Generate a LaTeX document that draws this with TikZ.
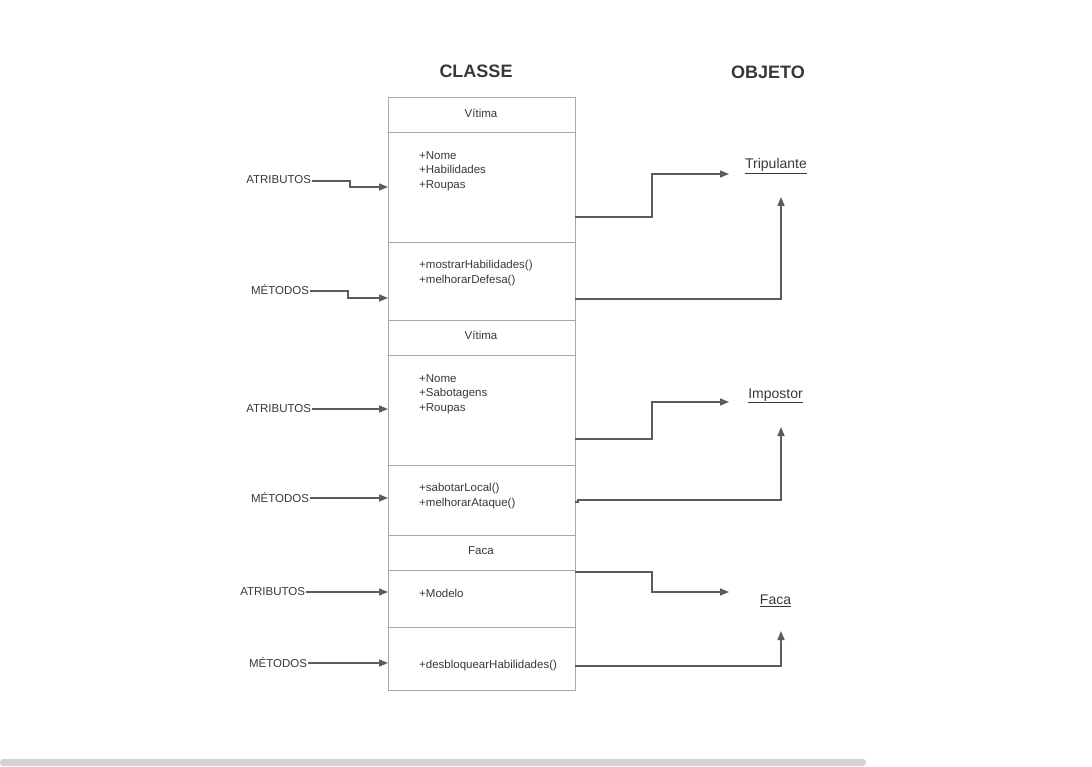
\documentclass[tikz,border=0pt]{standalone}
\usepackage{fontspec}
\setmainfont{Liberation Sans}
\usetikzlibrary{arrows.meta}
\definecolor{ln}{HTML}{5C5C5C}
\definecolor{bx}{HTML}{A8A8A8}
\definecolor{tx}{HTML}{383838}
\definecolor{bar}{HTML}{D2D2D7}
\begin{document}
\begin{tikzpicture}[x=1pt,y=-1pt,
  sec/.style={draw=bx, line width=0.9pt, minimum width=187pt, inner sep=0pt, outer sep=0pt, anchor=north west},
  txt/.style={font=\fontsize{11.5}{14}\selectfont, text=tx, inner sep=0pt, anchor=base west},
  hdr/.style={font=\fontsize{11.5}{14}\selectfont, text=tx, inner sep=0pt},
  side/.style={font=\fontsize{11.5}{14}\selectfont, text=tx, inner sep=0pt, outer sep=1pt, anchor=base east},
  ttl/.style={font=\fontsize{18}{20}\selectfont\bfseries, text=tx, inner sep=0pt},
  obj/.style={font=\fontsize{14}{16}\selectfont, text=tx, inner sep=0pt},
  conn/.style={draw=ln, line width=1.5pt, -{Triangle[length=9pt,width=7pt]}}]
\useasboundingbox (0,0) rectangle (1092,767);
\fill[bar, rounded corners=3pt] (0,759) rectangle (866,766);

% titles
\node[ttl] (classe) at (476,71) {CLASSE};
\node[ttl] (objeto) at (768,72) {OBJETO};

% class 1
\node[sec, minimum height=35pt] (h1) at (388,97) {};
\node[sec, minimum height=110pt] (a1) at (388,132) {};
\node[sec, minimum height=78pt] (m1) at (388,242) {};
\node[hdr] (h1t) at (481,113.5) {Vítima};
\node[txt] (a1l1) at (419,159.5) {+Nome};
\node[txt] (a1l2) at (419,174) {+Habilidades};
\node[txt] (a1l3) at (419,188.5) {+Roupas};
\node[txt] (m1l1) at (419,269) {+mostrarHabilidades()};
\node[txt] (m1l2) at (419,283.5) {+melhorarDefesa()};

% class 2
\node[sec, minimum height=35pt] (h2) at (388,320) {};
\node[sec, minimum height=110pt] (a2) at (388,355) {};
\node[sec, minimum height=70pt] (m2) at (388,465) {};
\node[hdr] (h2t) at (481,335.5) {Vítima};
\node[txt] (a2l1) at (419,382) {+Nome};
\node[txt] (a2l2) at (419,396.5) {+Sabotagens};
\node[txt] (a2l3) at (419,411) {+Roupas};
\node[txt] (m2l1) at (419,491.5) {+sabotarLocal()};
\node[txt] (m2l2) at (419,506) {+melhorarAtaque()};

% class 3
\node[sec, minimum height=35pt] (h3) at (388,535) {};
\node[sec, minimum height=57pt] (a3) at (388,570) {};
\node[sec, minimum height=63pt] (m3) at (388,627) {};
\node[hdr] (h3t) at (481,550.5) {Faca};
\node[txt] (a3l1) at (419,597.5) {+Modelo};
\node[txt] (m3l1) at (419,668) {+desbloquearHabilidades()};

% side labels
\node[side] (atr1) at (312,183.5) {ATRIBUTOS};
\node[side] (met1) at (310,294.5) {MÉTODOS};
\node[side] (atr2) at (312,412.5) {ATRIBUTOS};
\node[side] (met2) at (310,502.5) {MÉTODOS};
\node[side] (atr3) at (306,595.5) {ATRIBUTOS};
\node[side] (met3) at (308,667.5) {MÉTODOS};

\draw[conn] (atr1.east |- 0,181) -- (350,181) |- (a1.west |- 0,187);
\draw[conn] (met1.east |- 0,291) -- (348,291) |- (m1.west |- 0,298);
\draw[conn] (atr2.east |- 0,409) -- (a2.west |- 0,409);
\draw[conn] (met2.east |- 0,498) -- (m2.west |- 0,498);
\draw[conn] (atr3.east |- 0,592) -- (a3.west |- 0,592);
\draw[conn] (met3.east |- 0,663) -- (m3.west |- 0,663);

% objects
\node[obj] (trip) at (776,166) {\underline{Tripulante}};
\node[obj] (imp) at (775.5,396) {\underline{Impostor}};
\node[obj] (faca) at (775.5,601) {\underline{Faca}};

\coordinate (t1) at (729,174);
\coordinate (t2) at (781,197);
\coordinate (i1) at (729,402);
\coordinate (i2) at (781,427);
\coordinate (f1) at (729,592);
\coordinate (f2) at (781,631);

\draw[conn] (a1.east |- 0,217) -- (652,217) |- (t1);
\draw[conn] (m1.east |- 0,299) -| (t2);
\draw[conn] (a2.east |- 0,439) -- (652,439) |- (i1);
\draw[conn] (m2.east |- 0,502) -- (578,502) -- (578,500) -| (i2);
\draw[conn] (a3.east |- 0,572) -- (652,572) |- (f1);
\draw[conn] (m3.east |- 0,666) -| (f2);
\end{tikzpicture}
\end{document}
